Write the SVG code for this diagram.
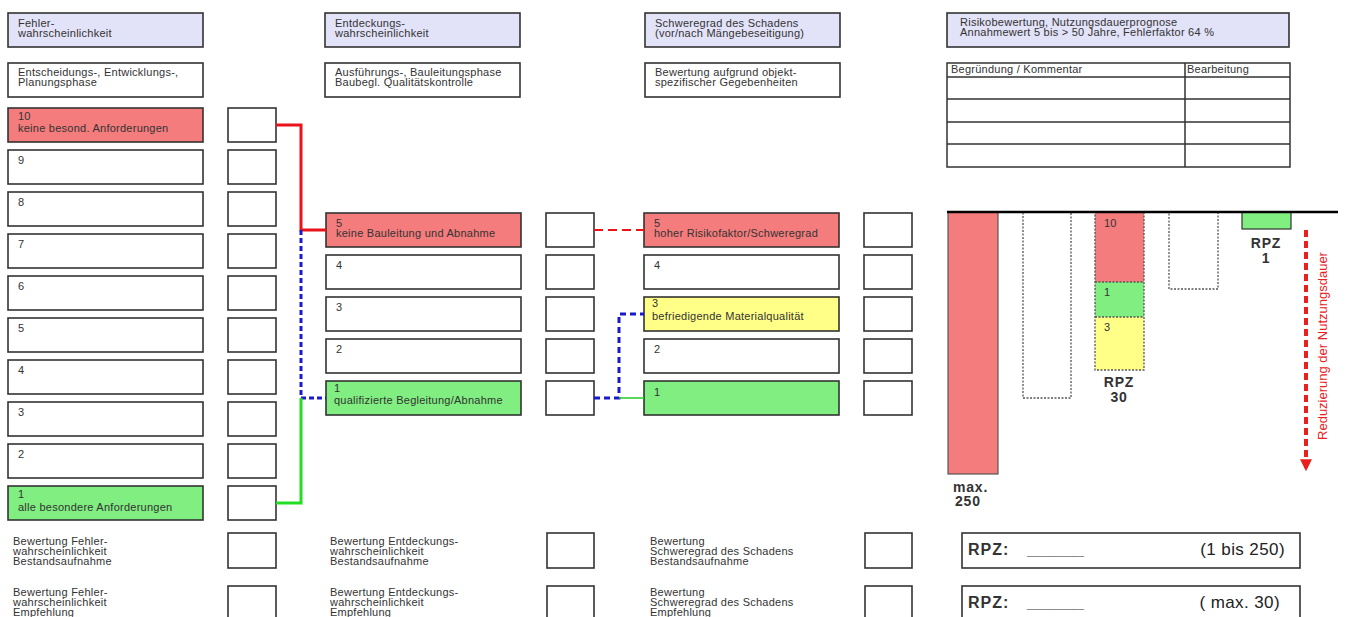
<svg xmlns="http://www.w3.org/2000/svg" width="1347" height="617" viewBox="0 0 1347 617">
<style>
text{font-family:"Liberation Sans",Arial,sans-serif;fill:#333;font-size:11px;letter-spacing:0.25px}
.box{fill:#fff;stroke:#333;stroke-width:1.6}
.hdr{fill:#e2e2f8;stroke:#333;stroke-width:1.6}
.red{fill:#f47c7c;stroke:#333;stroke-width:1.6}
.grn{fill:#80ee80;stroke:#333;stroke-width:1.6}
.yel{fill:#ffff88;stroke:#333;stroke-width:1.6}
.dot{fill:none;stroke:#555;stroke-width:1.3;stroke-dasharray:2,1.5}
.b{font-weight:bold;font-size:14px;fill:#333;letter-spacing:0.8px}
.big{font-size:17px;fill:#222;letter-spacing:0.4px}
.tl{fill:none;stroke:#333;stroke-width:1.5}
</style>
<defs>
<marker id="ah" viewBox="0 0 10 10" refX="9" refY="5" markerWidth="3.5" markerHeight="3" orient="auto" markerUnits="strokeWidth">
<path d="M0,0 L10,5 L0,10 z" fill="#e8201e"/>
</marker>
</defs>

<!-- Left column -->
<g id="hdr-fehler"><rect class="hdr" x="8" y="13" width="195" height="34"/><text x="18" y="27">Fehler-</text><text x="18" y="37">wahrscheinlichkeit</text></g>
<g id="phase-left"><rect class="box" x="8" y="63" width="195" height="34"/><text x="18" y="76">Entscheidungs-, Entwicklungs-,</text><text x="18" y="86">Planungsphase</text></g>
<g id="L10"><rect class="red" x="8" y="108" width="195" height="34"/><text x="18" y="120">10</text><text x="18" y="132">keine besond. Anforderungen</text><rect class="box" x="228" y="108" width="48" height="34"/></g>
<g id="L9"><rect class="box" x="8" y="150" width="195" height="34"/><text x="18" y="164">9</text><rect class="box" x="228" y="150" width="48" height="34"/></g>
<g id="L8"><rect class="box" x="8" y="192" width="195" height="34"/><text x="18" y="206">8</text><rect class="box" x="228" y="192" width="48" height="34"/></g>
<g id="L7"><rect class="box" x="8" y="234" width="195" height="34"/><text x="18" y="248">7</text><rect class="box" x="228" y="234" width="48" height="34"/></g>
<g id="L6"><rect class="box" x="8" y="276" width="195" height="34"/><text x="18" y="290">6</text><rect class="box" x="228" y="276" width="48" height="34"/></g>
<g id="L5"><rect class="box" x="8" y="318" width="195" height="34"/><text x="18" y="332">5</text><rect class="box" x="228" y="318" width="48" height="34"/></g>
<g id="L4"><rect class="box" x="8" y="360" width="195" height="34"/><text x="18" y="374">4</text><rect class="box" x="228" y="360" width="48" height="34"/></g>
<g id="L3"><rect class="box" x="8" y="402" width="195" height="34"/><text x="18" y="416">3</text><rect class="box" x="228" y="402" width="48" height="34"/></g>
<g id="L2"><rect class="box" x="8" y="444" width="195" height="34"/><text x="18" y="458">2</text><rect class="box" x="228" y="444" width="48" height="34"/></g>
<g id="L1"><rect class="grn" x="8" y="486" width="195" height="34"/><text x="18" y="498">1</text><text x="18" y="511">alle besondere Anforderungen</text><rect class="box" x="228" y="486" width="48" height="34"/></g>

<!-- Middle column -->
<g id="hdr-entdeckung"><rect class="hdr" x="325" y="13" width="195" height="34"/><text x="335" y="27">Entdeckungs-</text><text x="335" y="37">wahrscheinlichkeit</text></g>
<g id="phase-mid"><rect class="box" x="325" y="63" width="195" height="34"/><text x="335" y="76">Ausführungs-, Bauleitungsphase</text><text x="335" y="86">Baubegl. Qualitätskontrolle</text></g>
<g id="M5"><rect class="red" x="326" y="213" width="195" height="34"/><text x="336" y="227">5</text><text x="336" y="237">keine Bauleitung und Abnahme</text><rect class="box" x="546" y="213" width="48" height="34"/></g>
<g id="M4"><rect class="box" x="326" y="255" width="195" height="34"/><text x="336" y="269">4</text><rect class="box" x="546" y="255" width="48" height="34"/></g>
<g id="M3"><rect class="box" x="326" y="297" width="195" height="34"/><text x="336" y="311">3</text><rect class="box" x="546" y="297" width="48" height="34"/></g>
<g id="M2"><rect class="box" x="326" y="339" width="195" height="34"/><text x="336" y="353">2</text><rect class="box" x="546" y="339" width="48" height="34"/></g>
<g id="M1"><rect class="grn" x="326" y="381" width="195" height="34"/><text x="334" y="392">1</text><text x="334" y="404">qualifizierte Begleitung/Abnahme</text><rect class="box" x="546" y="381" width="48" height="34"/></g>

<!-- Right column -->
<g id="hdr-schwere"><rect class="hdr" x="645" y="13" width="195" height="34"/><text x="655" y="27">Schweregrad des Schadens</text><text x="655" y="37">(vor/nach Mängebeseitigung)</text></g>
<g id="phase-right"><rect class="box" x="645" y="63" width="195" height="34"/><text x="655" y="76">Bewertung aufgrund objekt-</text><text x="655" y="86">spezifischer Gegebenheiten</text></g>
<g id="R5"><rect class="red" x="644" y="213" width="195" height="34"/><text x="654" y="227">5</text><text x="654" y="237">hoher Risikofaktor/Schweregrad</text><rect class="box" x="864" y="213" width="48" height="34"/></g>
<g id="R4"><rect class="box" x="644" y="255" width="195" height="34"/><text x="654" y="269">4</text><rect class="box" x="864" y="255" width="48" height="34"/></g>
<g id="R3"><rect class="yel" x="644" y="297" width="195" height="34"/><text x="652" y="307">3</text><text x="652" y="320">befriedigende  Materialqualität</text><rect class="box" x="864" y="297" width="48" height="34"/></g>
<g id="R2"><rect class="box" x="644" y="339" width="195" height="34"/><text x="654" y="353">2</text><rect class="box" x="864" y="339" width="48" height="34"/></g>
<g id="R1"><rect class="grn" x="644" y="381" width="195" height="34"/><text x="654" y="396">1</text><rect class="box" x="864" y="381" width="48" height="34"/></g>

<!-- Risk assessment header and table -->
<g id="hdr-risiko"><rect class="hdr" x="947" y="13" width="342" height="34"/><text x="960" y="26">Risikobewertung, Nutzungsdauerprognose</text><text x="960" y="36">Annahmewert 5 bis &gt; 50 Jahre, Fehlerfaktor 64 %</text></g>
<g id="table">
<rect class="tl" x="947" y="63" width="343" height="104"/>
<path class="tl" d="M947,77H1290M947,99H1290M947,122H1290M947,144H1290M1185,63V167"/>
<text x="951" y="73">Begründung / Kommentar</text>
<text x="1187" y="73">Bearbeitung</text>
</g>

<!-- Connectors -->
<g id="connectors" fill="none">
<path d="M276,125H301V230H326" stroke="#e8141a" stroke-width="3"/>
<path d="M301,230V398H326" stroke="#1a1acc" stroke-width="3" stroke-dasharray="5,3"/>
<path d="M276,503H301V398" stroke="#22dd22" stroke-width="3"/>
<path d="M594,230H644" stroke="#e8141a" stroke-width="2" stroke-dasharray="9,5"/>
<path d="M594,398H619V314H644" stroke="#1a1acc" stroke-width="3" stroke-dasharray="6,4"/>
<path d="M619,398H644" stroke="#22cc22" stroke-width="1.5"/>
<path d="M1306,230V470" stroke="#e8201e" stroke-width="4" stroke-dasharray="7,4" marker-end="url(#ah)"/>
</g>

<!-- Chart -->
<g id="chart">
<rect x="948" y="212" width="50" height="262" fill="#f47c7c" stroke="#555" stroke-width="1.2"/>
<rect class="dot" x="1023" y="212" width="48" height="186"/>
<rect x="1095" y="212" width="49" height="70" fill="#f47c7c"/>
<rect x="1095" y="282" width="49" height="35" fill="#80ee80"/>
<rect x="1095" y="317" width="49" height="53" fill="#ffff88"/>
<rect class="dot" x="1095" y="212" width="49" height="158"/>
<path class="dot" d="M1095,282H1144M1095,317H1144"/>
<rect class="dot" x="1169" y="212" width="49" height="77"/>
<rect x="1242" y="212" width="49" height="17" fill="#80ee80" stroke="#333" stroke-width="1.2"/>
<line x1="947" y1="212" x2="1338" y2="212" stroke="#000" stroke-width="2.5"/>
<text x="1104" y="227" fill="#8a2a2a">10</text>
<text x="1104" y="296">1</text>
<text x="1104" y="331" fill="#777700">3</text>
<text class="b" x="1266" y="248" text-anchor="middle">RPZ</text>
<text class="b" x="1266" y="263" text-anchor="middle">1</text>
<text class="b" x="1119" y="387" text-anchor="middle">RPZ</text>
<text class="b" x="1119" y="402" text-anchor="middle">30</text>
<text class="b" x="953" y="492">max.</text>
<text class="b" x="955" y="506">250</text>
<text transform="translate(1327,346) rotate(-90)" text-anchor="middle" style="font-size:13px;fill:#e8201e;letter-spacing:0">Reduzierung der Nutzungsdauer</text>
</g>

<!-- Bottom rows -->
<g id="bottom-left-1"><text x="13" y="545">Bewertung Fehler-</text><text x="13" y="555">wahrscheinlichkeit</text><text x="13" y="565">Bestandsaufnahme</text><rect class="box" x="228" y="533" width="48" height="35"/></g>
<g id="bottom-left-2"><text x="13" y="596">Bewertung Fehler-</text><text x="13" y="606">wahrscheinlichkeit</text><text x="13" y="616">Empfehlung</text><rect class="box" x="228" y="586" width="48" height="35"/></g>
<g id="bottom-mid-1"><text x="330" y="545">Bewertung Entdeckungs-</text><text x="330" y="555">wahrscheinlichkeit</text><text x="330" y="565">Bestandsaufnahme</text><rect class="box" x="547" y="533" width="47" height="35"/></g>
<g id="bottom-mid-2"><text x="330" y="596">Bewertung Entdeckungs-</text><text x="330" y="606">wahrscheinlichkeit</text><text x="330" y="616">Empfehlung</text><rect class="box" x="547" y="586" width="47" height="35"/></g>
<g id="bottom-right-1"><text x="650" y="545">Bewertung</text><text x="650" y="555">Schweregrad des Schadens</text><text x="650" y="565">Bestandsaufnahme</text><rect class="box" x="865" y="533" width="47" height="35"/></g>
<g id="bottom-right-2"><text x="650" y="596">Bewertung</text><text x="650" y="606">Schweregrad des Schadens</text><text x="650" y="616">Empfehlung</text><rect class="box" x="865" y="586" width="47" height="35"/></g>
<g id="rpz-1"><rect class="box" x="962" y="533" width="338" height="35"/><text class="b" x="968" y="555" style="font-size:16px;letter-spacing:1px">RPZ: <tspan x="1027" textLength="57" lengthAdjust="spacingAndGlyphs" style="letter-spacing:0">_____</tspan></text><text class="big" x="1285" y="555" text-anchor="end">(1 bis 250)</text></g>
<g id="rpz-2"><rect class="box" x="962" y="586" width="338" height="35"/><text class="b" x="968" y="608" style="font-size:16px;letter-spacing:1px">RPZ: <tspan x="1027" textLength="57" lengthAdjust="spacingAndGlyphs" style="letter-spacing:0">_____</tspan></text><text class="big" x="1280" y="608" text-anchor="end">( max. 30)</text></g>
</svg>
